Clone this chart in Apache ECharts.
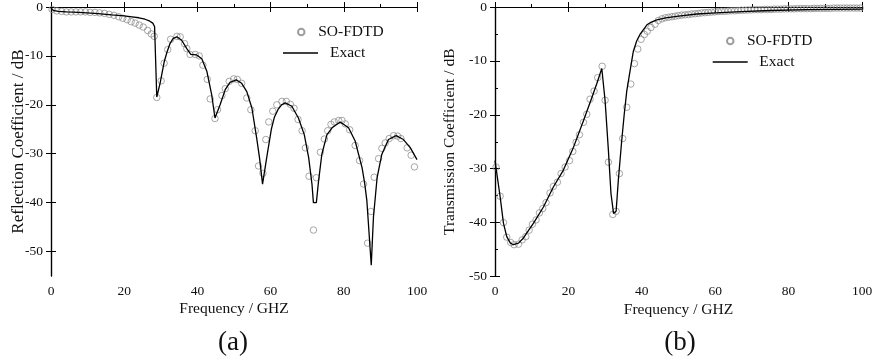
<!DOCTYPE html>
<html><head><meta charset="utf-8">
<script src="https://cdn.jsdelivr.net/npm/echarts@6/dist/echarts.min.js"></script>
<style>html,body{margin:0;padding:0;background:#fff}#c{width:881px;height:362px}</style>
</head><body><div id="c"></div>
<script>
// ---- Reflection (a) ----
const refExactX = [0,0.6,2,4.3,7.5,12,16.6,20,22.1,24,25.7,27,27.8,28.3,28.9,29.8,30.9,31.7,32.5,33.4,34.4,35.7,37.1,38.2,39.8,41.2,42.6,43.9,44.8,46.2,47.6,48.9,50.6,52.1,53.5,54.9,56.2,57.0,57.8,59.0,60.2,61.0,62.0,63.0,64.0,65.8,67.6,69.2,70.4,71.3,71.7,72.5,73.1,74.0,75.4,76.8,79.0,81.3,83.1,85.0,85.7,86.3,87.5,88.1,89.1,90.4,92.2,94.3,96.3,98.2,100];
const refExactY = [-0.2,-0.7,-0.9,-1.0,-1.1,-1.3,-1.6,-1.8,-2.0,-2.2,-2.5,-2.9,-3.3,-4.0,-18.4,-15.6,-11.3,-9.2,-7.5,-6.4,-6.1,-6.8,-8.5,-9.7,-9.8,-10.6,-13.2,-17.9,-22.7,-20.0,-16.9,-15.4,-14.9,-15.6,-17.3,-20.7,-26.8,-31.0,-36.2,-30.5,-25.0,-22.6,-21.0,-20.0,-19.6,-20.3,-22.7,-26.1,-30.8,-36.2,-40.0,-40.0,-35.6,-30.1,-26.1,-24.7,-23.5,-24.7,-27.4,-32.9,-36.0,-39.6,-52.8,-43.0,-34.9,-30.1,-27.1,-26.3,-27.1,-28.8,-31.2];
const refFdtdX = [0.3,1.6,2.9,4.2,5.5,6.8,8.1,9.4,10.7,12.0,13.3,14.6,15.9,17.2,18.5,19.6,20.8,21.9,23.0,24.1,25.2,26.4,27.4,28.2,28.9,30.1,30.9,31.9,32.7,34.4,35.3,36.5,37.1,38.0,39.4,40.5,41.5,42.7,43.5,44.8,45.5,46.7,47.6,48.7,49.9,50.9,52.1,53.5,54.6,55.8,56.7,57.9,58.7,59.5,60.6,61.7,63.1,64.3,65.4,66.4,67.5,68.6,69.5,70.5,71.7,72.5,73.6,74.7,75.6,76.5,77.4,78.6,79.5,80.4,81.6,83.1,84.3,85.4,86.5,87.4,88.3,89.5,90.4,91.3,92.4,93.6,94.7,95.6,97.3,98.4,99.3];
const refFdtdY = [-0.5,-0.8,-0.9,-1.0,-1.0,-1.0,-1.0,-1.0,-1.1,-1.1,-1.2,-1.3,-1.5,-1.7,-2.0,-2.3,-2.6,-3.0,-3.3,-3.7,-4.1,-4.8,-5.5,-6.0,-18.5,-15.1,-11.5,-8.7,-6.6,-6.0,-6.1,-7.5,-8.5,-9.7,-9.7,-10.0,-11.9,-14.8,-18.8,-22.8,-21.0,-18.1,-16.7,-15.2,-14.7,-14.8,-15.6,-18.6,-21.0,-25.3,-32.5,-34.0,-27.1,-23.5,-21.3,-20.0,-19.3,-19.3,-19.9,-20.7,-23.0,-25.3,-28.8,-34.6,-45.6,-34.9,-29.7,-27.0,-25.3,-24.0,-23.5,-23.2,-23.2,-23.9,-25.1,-28.3,-31.4,-36.2,-48.3,-41.8,-34.8,-31.0,-28.9,-27.8,-26.9,-26.3,-26.4,-26.9,-28.8,-30.3,-32.7];

// ---- Transmission (b) ----
const trExactX = [0,1.4,2.3,3.2,4.2,5.0,6.4,7.7,10.5,13.2,15.9,18.6,21.4,24.1,26.4,27.7,29.1,30.0,30.9,31.6,32.3,33.0,33.6,34.5,35.2,35.9,37.0,37.7,38.6,39.5,41.4,42.6,44.1,46.5,50,55,60,67,75,85,100];
const trExactY = [-28.5,-35.2,-40.1,-42.6,-43.8,-44.1,-43.8,-42.9,-40.1,-37.1,-33.4,-30.3,-26.0,-21.1,-16.8,-14.3,-11.4,-17.4,-26.6,-34.6,-38.3,-37.9,-32.2,-25.0,-20.0,-15.6,-11.0,-8.2,-6.3,-5.1,-3.3,-2.8,-2.4,-2.0,-1.7,-1.3,-1.1,-0.85,-0.65,-0.5,-0.4];
const trFdtdX = [0.3,1.4,2.3,3.2,4.3,5.2,6.4,7.4,8.4,9.3,10.2,11.2,12.1,13.0,13.9,15.0,15.9,17.0,18.0,19.1,20.3,21.2,22.1,23.0,24.1,25.0,25.9,27.0,28.0,29.2,30.0,30.9,32.1,33.0,33.9,34.8,35.9,37.0,38.0,38.9,39.8,40.7,41.5,42.5,43.6,44.5,45.5,46.4,47.3,48.2,49.1,50.0,50.9,51.8,52.7,53.6,54.5,55.4,56.3,57.2,58.1,59.0,59.9,60.8,61.7,62.6,63.5,64.4,65.3,66.2,67.1,68.0,68.9,69.8,70.7,71.6,72.5,73.4,74.3,75.2,76.1,77.0,77.9,78.8,79.7,80.6,81.5,82.4,83.3,84.2,85.1,86.0,86.9,87.8,88.7,89.6,90.5,91.4,92.3,93.2,94.1,95.0,95.9,96.8,97.7,98.6,99.5];
const trFdtdY = [-29.7,-35.1,-40.0,-42.7,-43.7,-44.1,-44.0,-43.2,-42.6,-41.4,-40.3,-39.5,-38.2,-37.4,-36.3,-34.5,-33.3,-32.5,-30.9,-29.7,-28.5,-26.8,-25.1,-23.7,-21.4,-19.9,-17.1,-15.6,-13.1,-11.0,-17.3,-28.8,-38.5,-37.9,-30.9,-24.4,-18.6,-14.3,-10.5,-7.8,-6.0,-5.1,-4.5,-3.8,-3.2,-2.5,-2.2,-2.0,-1.9,-1.8,-1.7,-1.6,-1.5,-1.45,-1.4,-1.3,-1.25,-1.2,-1.1,-1.05,-1.0,-0.95,-0.9,-0.85,-0.8,-0.8,-0.75,-0.7,-0.7,-0.65,-0.6,-0.6,-0.55,-0.55,-0.5,-0.5,-0.5,-0.45,-0.45,-0.45,-0.4,-0.4,-0.4,-0.35,-0.35,-0.35,-0.35,-0.3,-0.3,-0.3,-0.3,-0.3,-0.25,-0.25,-0.25,-0.25,-0.25,-0.25,-0.2,-0.2,-0.2,-0.2,-0.2,-0.2,-0.2,-0.2,-0.2];

const xTicks = [0,20,40,60,80,100];
const refYTicks = [-50,-40,-30,-20,-10,0];
const trYTicks = [-50,-40,-30,-20,-10,0];
const xName = 'Frequency / GHZ';
const refYName = 'Reflection Coefficient / dB';
const trYName = 'Transmission Coefficient / dB';
const seriesNames = ['SO-FDTD','Exact'];
const panelLabels = ['(a)','(b)'];

const zip = (a,b) => a.map((v,i)=>[v,b[i]]);
const FONT = '"Liberation Serif", "Times New Roman", serif';
const TXT = '#111';
const axLine = {show:true, lineStyle:{color:'#000', width:1.2}};

function xAxes(gi){
  return [
    {gridIndex:gi, type:'value', min:0, max:100, interval:20, position:'bottom',
     axisLine:axLine, axisTick:{inside:true,length:5,lineStyle:{color:'#000'}},
     minorTick:{show:true,splitNumber:2,length:3,lineStyle:{color:'#000'}},
     splitLine:{show:false}, minorSplitLine:{show:false},
     axisLabel:{fontFamily:FONT,fontSize:13.5,color:TXT,margin:8, customValues:xTicks},
     name:xName, nameLocation:'middle', nameGap:25, nameMoveOverlap:false,
     nameTextStyle:{fontFamily:FONT,fontSize:15.5,color:TXT}},
    {gridIndex:gi, type:'value', min:0, max:100, interval:20, position:'top',
     axisLine:axLine, axisTick:{inside:true,length:5,lineStyle:{color:'#000'}},
     axisLabel:{show:false}, splitLine:{show:false}}
  ];
}
function yAxes(gi, min, ticks, name, nameSize, nameGap, minor){
  return [
    {gridIndex:gi, type:'value', min:min, max:0, position:'left',
     axisLine:axLine,
     axisTick:{inside:true,length:5,lineStyle:{color:'#000'}, customValues:ticks},
     minorTick:{show:minor,splitNumber:2,length:3,lineStyle:{color:'#000'}},
     splitLine:{show:false}, minorSplitLine:{show:false},
     axisLabel:{fontFamily:FONT,fontSize:13.5,color:TXT,margin:8, customValues:ticks},
     name:name, nameLocation:'middle', nameGap:nameGap, nameRotate:90, nameMoveOverlap:false,
     nameTextStyle:{fontFamily:FONT,fontSize:nameSize,color:TXT}},
    {gridIndex:gi, type:'value', min:min, max:0, position:'right',
     axisLine:axLine,
     axisTick:{inside:true,length:5,lineStyle:{color:'#000'}, customValues:ticks},
     axisLabel:{show:false}, splitLine:{show:false}}
  ];
}

const scatterStyle = {color:'rgba(0,0,0,0)', borderColor:'#858585', borderWidth:0.9};
const chart = echarts.init(document.getElementById('c'), null, {renderer:'canvas'});
const legendText = {fontFamily:FONT, fontSize:15.5, color:TXT};
const lg = (name, left, top, w, h, icon, pad) => ({
  data:[icon ? {name:name, icon:icon} : name], left:left, top:top, padding:0,
  itemWidth:w, itemHeight:h, textStyle:{...legendText, padding:[0,0,0,pad]}
});
chart.setOption({
  animation:false,
  backgroundColor:'#fff',
  grid:[
    {left:51, top:5, width:366, height:271},
    {left:495, top:5.5, width:367, height:271}
  ],
  xAxis:[...xAxes(0), ...xAxes(1)],
  yAxis:[...yAxes(0,-55,refYTicks,refYName,17,24,false), ...yAxes(1,-50,trYTicks,trYName,15.5,37,true)],
  legend:[
    lg(seriesNames[0], 297, 24, 24, 6.5, null, 0),
    lg(seriesNames[1], 283, 45, 35, 1.3, 'rect', 7),
    lg(seriesNames[0], 726, 33, 23.4, 6.5, null, 0),
    lg(seriesNames[1], 712.7, 54, 35, 1.3, 'rect', 6.6)
  ],
  series:[
    {name:seriesNames[0], type:'scatter', xAxisIndex:0, yAxisIndex:0, symbol:'circle', symbolSize:6.5,
     itemStyle:scatterStyle, data:zip(refFdtdX, refFdtdY), z:2},
    {name:seriesNames[1], type:'line', xAxisIndex:0, yAxisIndex:0, showSymbol:false, symbol:'none',
     lineStyle:{color:'#000', width:1.3}, itemStyle:{color:'#000'}, data:zip(refExactX, refExactY), z:3},
    {name:seriesNames[0], type:'scatter', xAxisIndex:2, yAxisIndex:2, symbol:'circle', symbolSize:6.5,
     itemStyle:scatterStyle, data:zip(trFdtdX, trFdtdY), z:2},
    {name:seriesNames[1], type:'line', xAxisIndex:2, yAxisIndex:2, showSymbol:false, symbol:'none',
     lineStyle:{color:'#000', width:1.3}, itemStyle:{color:'#000'}, data:zip(trExactX, trExactY), z:3}
  ],
  graphic:[
    {type:'text', style:{text:panelLabels[0], x:233, y:343, textAlign:'center', textVerticalAlign:'middle', font:'27px '+FONT, fill:TXT}},
    {type:'text', style:{text:panelLabels[1], x:680, y:343, textAlign:'center', textVerticalAlign:'middle', font:'27px '+FONT, fill:TXT}}
  ]
});
</script></body></html>
